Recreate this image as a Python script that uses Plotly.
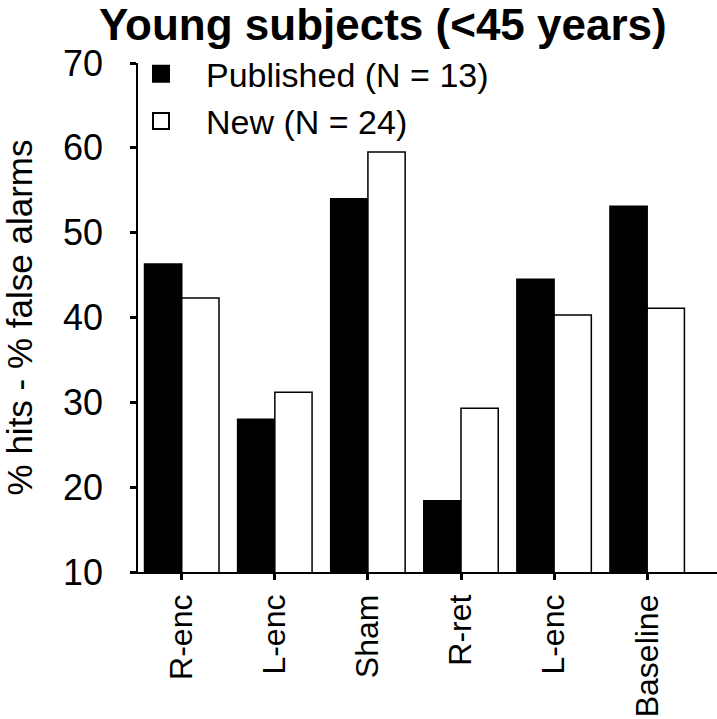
import plotly.graph_objects as go

categories = ["R-enc", "L-enc", "Sham", "R-ret", "L-enc", "Baseline"]
positions = [0, 1, 2, 3, 4, 5]
published = [46.3, 28.0, 54.0, 18.4, 44.5, 53.1]
new = [42.3, 31.2, 59.5, 29.3, 40.3, 41.1]
series_names = ["Published (N = 13)", "New (N = 24)"]
y_ticks = [10, 20, 30, 40, 50, 60, 70]

FONT = "Liberation Sans, Arial, Helvetica, sans-serif"

fig = go.Figure()
fig.add_trace(go.Bar(x=positions, y=published, name=series_names[0],
                     marker=dict(color="black", line=dict(color="black", width=1.5)),
                     showlegend=False))
fig.add_trace(go.Bar(x=positions, y=new, name=series_names[1],
                     marker=dict(color="white", line=dict(color="black", width=1.5)),
                     showlegend=False))
# legend entries
fig.add_trace(go.Scatter(x=[None], y=[None], mode="markers", name=series_names[0],
                         marker=dict(symbol="square", size=16, color="black",
                                     line=dict(color="black", width=2))))
fig.add_trace(go.Scatter(x=[None], y=[None], mode="markers", name=series_names[1],
                         marker=dict(symbol="square", size=16, color="white",
                                     line=dict(color="black", width=2))))

fig.update_layout(
    template="none",
    width=717, height=719,
    margin=dict(l=138, r=0, t=63, b=147, autoexpand=False),
    paper_bgcolor="white", plot_bgcolor="white",
    barmode="group", bargap=0.2, bargroupgap=0,
    font=dict(family=FONT, color="black", size=35),
    title=dict(text="<b>Young subjects (&lt;45 years)</b>",
               font=dict(family=FONT, size=44, color="black"),
               x=0.534, xanchor="center", xref="container",
               y=0.966, yanchor="middle", yref="container"),
    legend=dict(x=-0.038, y=1.035, xanchor="left", yanchor="top",
                bgcolor="rgba(0,0,0,0)", font=dict(size=34, family=FONT),
                itemwidth=80, tracegroupgap=0),
    xaxis=dict(range=[-0.47, 5.75], tickvals=positions, ticktext=categories,
               tickangle=-90, showgrid=False, zeroline=False, automargin=False,
               showline=True, linecolor="black", linewidth=1.5,
               ticks="outside", ticklen=6, tickwidth=3, tickcolor="black",
               ticklabelstandoff=2,
               tickfont=dict(size=32, family=FONT)),
    yaxis=dict(range=[10, 70], tickvals=y_ticks, showgrid=False, zeroline=False,
               automargin=False,
               showline=True, linecolor="black", linewidth=1.5,
               ticks="outside", ticklen=6, tickwidth=3, tickcolor="black",
               ticklabelstandoff=20,
               tickfont=dict(size=36, family=FONT),
               title=dict(text="% hits - % false alarms", font=dict(size=35, family=FONT),
                          standoff=51)),
)

fig.write_html("out.html",
               config={"displayModeBar": False},
               post_script="document.body.style.margin='0';document.body.style.overflow='hidden';")
